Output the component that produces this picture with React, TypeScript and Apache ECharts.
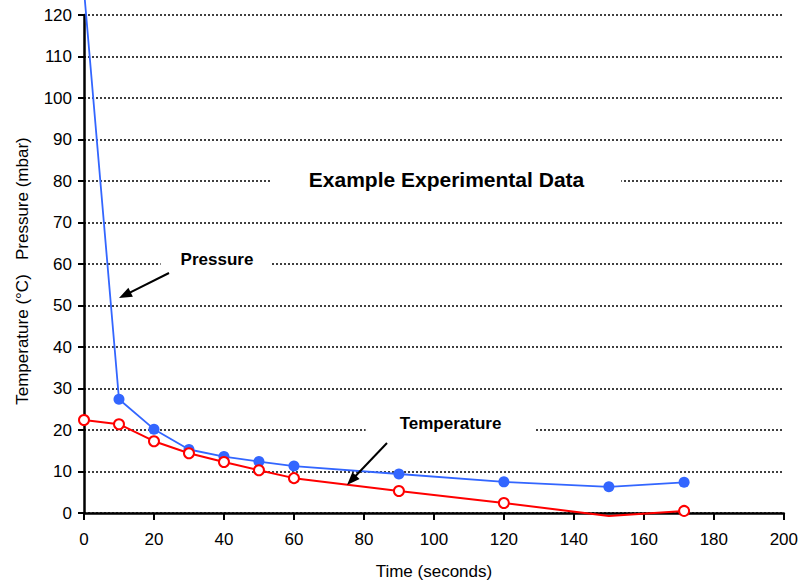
import React, { useEffect, useRef } from "react";
import * as echarts from "echarts";

const timeSeconds = [0, 10, 20, 30, 40, 50, 60, 90, 120, 150, 171.5];
const pressureMbar = [126, 27.4, 20.2, 15.3, 13.6, 12.4, 11.3, 9.4, 7.5, 6.3, 7.4];
const temperatureC = [22.4, 21.4, 17.3, 14.4, 12.3, 10.3, 8.4, 5.3, 2.4, -0.7, 0.5];
const xTicks = { min: 0, max: 200, interval: 20 };
const yTicks = { min: 0, max: 120, interval: 10 };

const FONT = "'Liberation Sans', Arial, sans-serif";

function arrow(x1: number, y1: number, x2: number, y2: number) {
  const dx = x2 - x1;
  const dy = y2 - y1;
  const len = Math.sqrt(dx * dx + dy * dy);
  const ux = dx / len;
  const uy = dy / len;
  const headLen = 13;
  const headHalf = 5;
  const bx = x2 - ux * headLen;
  const by = y2 - uy * headLen;
  const px = -uy * headHalf;
  const py = ux * headHalf;
  return [
    {
      type: "line",
      shape: { x1, y1, x2: bx + ux * 2, y2: by + uy * 2 },
      style: { stroke: "#000", lineWidth: 2 },
      z: 50,
    },
    {
      type: "polygon",
      shape: {
        points: [
          [x2, y2],
          [bx + px, by + py],
          [bx - px, by - py],
        ],
      },
      style: { fill: "#000" },
      z: 50,
    },
  ];
}

export default function App() {
  const ref = useRef<HTMLDivElement>(null);

  useEffect(() => {
    if (!ref.current) return;
    const chart = echarts.init(ref.current, undefined, { renderer: "svg" });

    const pressureData = timeSeconds.map((t, i) => [t, pressureMbar[i]]);
    const temperatureData = timeSeconds.map((t, i) => [t, temperatureC[i]]);

    const labelText = (
      text: string,
      x: number,
      y: number,
      size: number,
      padding: number[]
    ) => ({
      type: "text",
      x,
      y,
      z: 40,
      style: {
        text,
        fill: "#000",
        font: `bold ${size}px ${FONT}`,
        align: "center",
        verticalAlign: "middle",
        backgroundColor: "#fff",
        padding,
      },
    });

    chart.setOption({
      animation: false,
      backgroundColor: "#fff",
      grid: { left: 84, right: 16, top: 15, bottom: 70, containLabel: false },
      xAxis: {
        type: "value",
        min: xTicks.min,
        max: xTicks.max,
        interval: xTicks.interval,
        name: "Time (seconds)",
        nameLocation: "middle",
        nameGap: 50,
        nameTextStyle: { color: "#000", fontSize: 17, fontFamily: FONT },
        axisLine: { show: true, onZero: false, lineStyle: { color: "#000", width: 2.5 } },
        axisTick: { show: true, inside: false, length: 7, lineStyle: { color: "#000", width: 2 } },
        axisLabel: { color: "#000", fontSize: 17, fontFamily: FONT, margin: 18 },
        splitLine: { show: false },
      },
      yAxis: {
        type: "value",
        min: yTicks.min,
        max: yTicks.max,
        interval: yTicks.interval,
        axisLine: { show: true, lineStyle: { color: "#000", width: 2.5 } },
        axisTick: { show: true, inside: false, length: 6, lineStyle: { color: "#000", width: 2 } },
        axisLabel: { color: "#000", fontSize: 17, fontFamily: FONT, margin: 12 },
        splitLine: {
          show: true,
          lineStyle: { color: "#000", width: 1.6, type: [2, 2] },
        },
      },
      series: [
        {
          name: "Pressure",
          type: "line",
          data: pressureData,
          clip: false,
          symbol: "circle",
          symbolSize: 11,
          itemStyle: { color: "#3366ff" },
          lineStyle: { color: "#3366ff", width: 1.8 },
          z: 3,
        },
        {
          name: "Temperature",
          type: "line",
          data: temperatureData,
          clip: false,
          symbol: "circle",
          symbolSize: (v: number[]) => (v[1] < 0 ? 0 : 10),
          itemStyle: { color: "#fff", borderColor: "#ff0000", borderWidth: 2 },
          lineStyle: { color: "#ff0000", width: 2 },
          z: 4,
        },
      ],
      graphic: [
        labelText("Example Experimental Data", 446, 179, 21, [4, 37, 4, 38]),
        labelText("Pressure", 216, 259, 17, [4, 18, 4, 20]),
        labelText("Temperature", 450, 423, 17, [4, 33, 4, 34]),
        ...arrow(169, 273, 119, 298),
        ...arrow(387, 443, 347, 485),
        {
          type: "text",
          x: 22,
          y: 271,
          rotation: Math.PI / 2,
          style: {
            text: "Temperature (°C)   Pressure (mbar)",
            fill: "#000",
            font: `17px ${FONT}`,
            align: "center",
            verticalAlign: "middle",
          },
        },
      ],
    });

    return () => chart.dispose();
  }, []);

  return (
    <div
      ref={ref}
      style={{ position: "fixed", left: 0, top: 0, width: 801, height: 585 }}
    />
  );
}
